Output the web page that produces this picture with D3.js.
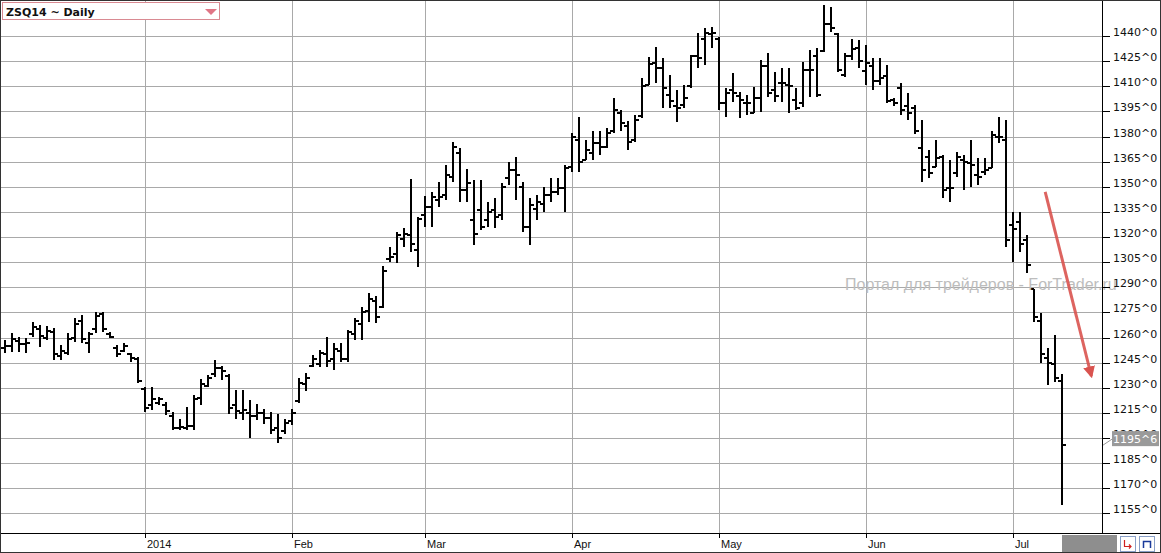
<!DOCTYPE html>
<html>
<head>
<meta charset="utf-8">
<script src="https://cdn.jsdelivr.net/npm/d3@7"></script>
<style>
  body { margin: 0; background: #fff; }
  svg { display: block; }
</style>
</head>
<body>
<svg id="chart" width="1161" height="553"></svg>
<script>
// trading days shown, month by month
const months = ["2013-12", "2014-01", "2014-02", "2014-03", "2014-04", "2014-05", "2014-06", "2014-07"];
const monthLabels = ["", "2014", "Feb", "Mar", "Apr", "May", "Jun", "Jul"];
const monthDays = [
    [3,4,5,6,9,10,11,12,13,16,17,18,19,20,23,24,26,27,30,31],
    [2,3,6,7,8,9,10,13,14,15,16,17,21,22,23,24,27,28,29,30,31],
    [3,4,5,6,7,10,11,12,13,14,18,19,20,21,24,25,26,27,28],
    [3,4,5,6,7,10,11,12,13,14,17,18,19,20,21,24,25,26,27,28,31],
    [1,2,3,4,7,8,9,10,11,14,15,16,17,21,22,23,24,25,28,29,30],
    [1,2,5,6,7,8,9,12,13,14,15,16,19,20,21,22,23,27,28,29,30],
    [2,3,4,5,6,9,10,11,12,13,16,17,18,19,20,23,24,25,26,27,30],
    [1,2,3,7,8,9,10,11]
];

const open = [
    1254,1255,1258,1256,1262,1265,1260,1263,1249,1251,1260,1270,1257,1265,1274,1262,1254,1252,1250,1247,
    1229,1220,1221,1220,1213,1206,1206,1207,1224,1231,1238,1242,1237,1220,1215,1215,1213,1215,1212,1206,1204,
    1210,1222,1232,1243,1244,1250,1247,1252,1247,1262,1268,1276,1282,1278,1307,1310,1319,1321,1312,
    1333,1338,1342,1345,1356,1370,1348,1330,1336,1330,1336,1333,1355,1360,1350,1326,1337,1340,1345,1347,1349,
    1362,1378,1366,1370,1376,1374,1383,1394,1386,1378,1392,1411,1424,1421,1405,1398,1399,1410,1428,1438,1441,
    1438,1400,1408,1404,1400,1394,1403,1422,1408,1412,1411,1402,1400,1420,1428,1431,1447,1441,1417,1428,1433,
    1419,1422,1413,1416,1402,1409,1398,1397,1373,1368,1362,1368,1349,1358,1366,1364,1357,1359,1361,1380,1378,
    1327,1329,1318,1289,1270,1248,1244,1234
];
const high = [
    1258.5,1262.5,1260.5,1259.5,1269.5,1267.5,1267,1265.5,1255.5,1262.5,1271.5,1273.5,1263.5,1275.25,1275,1263.5,1255.5,1256.5,1250.75,1248.5,
    1230.5,1230.5,1224.75,1221.75,1215.5,1211.5,1218.75,1225.5,1235.5,1237.5,1246.5,1242.75,1238.5,1228.5,1228.5,1222.5,1220.5,1217.5,1215.5,1214.5,1211.5,
    1217.5,1236,1239,1249.5,1252.5,1260.5,1256.5,1257,1264.5,1271.5,1278.5,1286.5,1284.5,1302.5,1314.25,1323.25,1325.25,1354.5,1332,
    1344.5,1347,1353,1363,1377,1373,1360.5,1354,1354,1341,1343,1352,1365,1368,1353,1343,1345,1350,1355,1355,1363,
    1382,1391.75,1378,1383,1383,1385,1403,1396,1389,1393,1414.75,1427.5,1433.5,1426.75,1416.75,1407.75,1410.75,1428.75,1441.5,1444.5,1445.5,
    1439.5,1408.75,1417.75,1406.75,1404.75,1409.75,1425.75,1429.75,1418.75,1420.75,1420.75,1408.75,1424.75,1431.5,1432.75,1458.5,1457.5,1441.5,1429.75,1438.5,1437.5,
    1434.5,1426.75,1426.75,1422.75,1403,1411.75,1405.75,1398.75,1389.75,1372,1378,1369,1366,1371,1369,1378,1367,1367,1383,1391.75,1390,
    1335,1335,1321.25,1289.25,1274.5,1253.5,1261.5,1238.5
];
const low = [
    1250.5,1251.5,1251.5,1251,1260.5,1254.5,1258.5,1246.5,1246.5,1249.5,1257.5,1256.5,1250.5,1262.5,1263.5,1259.5,1248.5,1251.5,1245.5,1233,
    1215.5,1216.5,1219.75,1213.5,1204.5,1204.5,1204.5,1204.5,1219.75,1230.5,1236.5,1234.5,1214.5,1211.5,1210.5,1199.75,1210.5,1208.5,1202.5,1196.75,1202.5,
    1207.5,1221,1228,1242.5,1242.5,1242.5,1240.5,1245.5,1245.5,1258.5,1258.5,1269.5,1268.5,1277.5,1305.25,1304.25,1314.25,1311.25,1302.25,
    1326,1326,1338,1342,1353,1341,1341,1315.25,1324,1326.25,1325.25,1330.25,1351,1342,1323.25,1315.25,1330.25,1335,1341,1345,1335,
    1359,1359,1366,1366,1369,1373,1382,1383,1372,1376.5,1391,1410.75,1411.75,1396.75,1396.75,1388.75,1396.75,1408.75,1420.75,1422.75,1432.75,
    1395.75,1391.75,1400.75,1390.75,1392.75,1393.75,1394.75,1403.75,1400.75,1400.75,1393.75,1395.75,1397.75,1403.75,1403.75,1430.5,1442.5,1418.75,1415.75,1425.75,1420.75,
    1410.75,1407.75,1410.75,1399.75,1398,1392.75,1389.75,1381.75,1353,1355,1362,1343,1341,1356,1348,1350,1351,1357,1361,1376,1314.25,
    1305.25,1311.25,1298.25,1269.5,1244.75,1231.5,1233.5,1160
];
const close = [
    1255,1259,1256,1257,1266,1261,1264,1250,1252,1259,1268,1259,1262,1273,1265,1260.5,1250,1255,1248,1234,
    1218,1223,1223,1216,1206,1206.5,1207,1223,1232,1236,1242,1240,1218,1216,1217,1213,1215,1212,1205,1200,1209,
    1215,1233,1236,1247,1251,1246,1253,1247,1263,1270,1275,1283,1272,1300,1308,1321,1322,1316,1331,
    1338,1344,1344,1357,1374,1348,1352,1322,1326,1335,1332,1350,1360,1357,1326,1339,1341,1345,1347,1349,1361,
    1380,1365,1372,1376,1374,1382,1396,1388,1377,1390,1410,1423,1421,1409,1401,1397,1403,1428,1427,1442,1442,
    1400,1406,1406,1402,1400,1403,1422,1406,1404,1412,1410,1397,1420,1420,1405,1447,1445,1420,1428,1432,1425,
    1424,1413,1415,1401,1400,1396,1394,1383,1360,1358,1367,1348,1349,1368,1365,1363,1356,1360,1381,1380,1318,
    1325,1316,1303,1272,1250,1245,1236,1195.75
];

const priceTicks = [1155,1170,1185,1200,1215,1230,1245,1260,1275,1290,1305,1320,1335,1350,1365,1380,1395,1410,1425,1440];
const lastPrice = 1195.75;
const lastLabel = "1195^6";
const title = "ZSQ14 ~ Daily";
const watermark = "Портал для трейдеров - ForTrader.ru";
// hand drawn arrow: [bar index, price]
const arrowFrom = [148.6, 1347];
const arrowTo = [155.2, 1237];

const dates = [];
months.forEach((m, k) => monthDays[k].forEach(d => dates.push(m + "-" + String(d).padStart(2, "0"))));
const bars = dates.map((d, i) => ({ date: d, i: i, o: open[i], h: high[i], l: low[i], c: close[i] }));

const svg = d3.select("#chart");
const width = 1161, height = 553;
const plotRight = 1102, plotBottom = 533;

const xScale = d3.scaleLinear().domain([0, bars.length - 1]).range([5, 1062]);
const yScale = d3.scaleLinear().domain([1440, 1155]).range([36, 513.4]);

svg.append("defs").append("clipPath").attr("id", "plotclip")
    .append("rect").attr("x", 0).attr("y", 0).attr("width", plotRight).attr("height", plotBottom);
const arrowMarker = svg.select("defs").append("marker")
    .attr("id", "arrowhead").attr("viewBox", "0 0 10 10")
    .attr("refX", 8).attr("refY", 5)
    .attr("markerWidth", 4).attr("markerHeight", 4)
    .attr("orient", "auto");
arrowMarker.append("path").attr("d", "M0,0 L10,5 L0,10 z").attr("fill", "#d9534f");

svg.append("rect").attr("width", width).attr("height", height).attr("fill", "#fff");

const g = svg.append("g").attr("clip-path", "url(#plotclip)").attr("shape-rendering", "crispEdges");

// grid
g.selectAll(".hgrid").data(priceTicks).enter().append("line")
    .attr("class", "hgrid")
    .attr("x1", 0).attr("x2", plotRight)
    .attr("y1", d => Math.round(yScale(d)) + 0.5).attr("y2", d => Math.round(yScale(d)) + 0.5)
    .attr("stroke", "#a9a9a9").attr("stroke-width", 1);

const monthStarts = [];
let idx = 0;
monthDays.forEach((days, k) => { monthStarts.push({ k: k, i: idx, label: monthLabels[k] }); idx += days.length; });
const shownMonths = monthStarts.filter(m => m.k > 0);

g.selectAll(".vgrid").data(shownMonths).enter().append("line")
    .attr("class", "vgrid")
    .attr("x1", d => Math.round(xScale(d.i)) + 0.5).attr("x2", d => Math.round(xScale(d.i)) + 0.5)
    .attr("y1", 0).attr("y2", plotBottom)
    .attr("stroke", "#a9a9a9").attr("stroke-width", 1);

// OHLC bars
const barG = g.selectAll(".bar").data(bars).enter().append("g").attr("class", "bar");
barG.append("line")
    .attr("x1", d => Math.round(xScale(d.i))).attr("x2", d => Math.round(xScale(d.i)))
    .attr("y1", d => Math.round(yScale(d.h))).attr("y2", d => Math.round(yScale(d.l)))
    .attr("stroke", "#000").attr("stroke-width", 2);
barG.append("line")
    .attr("x1", d => Math.round(xScale(d.i)) - 4).attr("x2", d => Math.round(xScale(d.i)))
    .attr("y1", d => Math.round(yScale(d.o))).attr("y2", d => Math.round(yScale(d.o)))
    .attr("stroke", "#000").attr("stroke-width", 2);
barG.append("line")
    .attr("x1", d => Math.round(xScale(d.i))).attr("x2", d => Math.round(xScale(d.i)) + 4)
    .attr("y1", d => Math.round(yScale(d.c))).attr("y2", d => Math.round(yScale(d.c)))
    .attr("stroke", "#000").attr("stroke-width", 2);

// watermark
svg.append("text")
    .attr("x", 845).attr("y", yScale(1289) + 1)
    .attr("font-family", "Liberation Sans, Arial, sans-serif").attr("font-size", 16)
    .attr("fill", "#bdbdbd")
    .text(watermark);

// arrow annotation
svg.append("line")
    .attr("x1", xScale(arrowFrom[0])).attr("y1", yScale(arrowFrom[1]))
    .attr("x2", xScale(arrowTo[0])).attr("y2", yScale(arrowTo[1]))
    .attr("stroke", "#d9534f").attr("stroke-width", 3).attr("stroke-opacity", 0.9)
    .attr("marker-end", "url(#arrowhead)");

// right axis
const axisG = svg.append("g").attr("shape-rendering", "crispEdges");
axisG.append("line").attr("x1", plotRight + 0.5).attr("x2", plotRight + 0.5).attr("y1", 0).attr("y2", plotBottom)
    .attr("stroke", "#000");
axisG.selectAll(".ytick").data(priceTicks).enter().append("line")
    .attr("x1", plotRight + 1).attr("x2", plotRight + 8)
    .attr("y1", d => Math.round(yScale(d)) + 0.5).attr("y2", d => Math.round(yScale(d)) + 0.5)
    .attr("stroke", "#000");
svg.selectAll(".ylabel").data(priceTicks).enter().append("text")
    .attr("x", plotRight + 11).attr("y", d => Math.round(yScale(d)) + 0)
    .attr("font-family", "DejaVu Sans, sans-serif").attr("font-size", 11)
    .attr("fill", "#111")
    .text(d => d + "^0");

// last price marker
const lastY = yScale(lastPrice);
svg.append("line")
    .attr("x1", plotRight + 1).attr("y1", lastY)
    .attr("x2", plotRight + 10).attr("y2", lastY - 6)
    .attr("stroke", "#999").attr("stroke-width", 1);
svg.append("rect")
    .attr("x", plotRight + 10).attr("y", lastY - 14)
    .attr("width", 47).attr("height", 15)
    .attr("fill", "#9a9a9a");
svg.append("text")
    .attr("x", plotRight + 11).attr("y", lastY - 2)
    .attr("font-family", "DejaVu Sans, sans-serif").attr("font-size", 11)
    .attr("fill", "#fff")
    .text(lastLabel);

// bottom axis
axisG.append("line").attr("x1", 0).attr("x2", width).attr("y1", plotBottom + 0.5).attr("y2", plotBottom + 0.5)
    .attr("stroke", "#000");
axisG.selectAll(".xtick").data(shownMonths).enter().append("line")
    .attr("x1", d => Math.round(xScale(d.i)) + 0.5).attr("x2", d => Math.round(xScale(d.i)) + 0.5)
    .attr("y1", plotBottom).attr("y2", plotBottom + 5)
    .attr("stroke", "#000");
svg.selectAll(".xlabel").data(shownMonths).enter().append("text")
    .attr("x", d => Math.round(xScale(d.i)) + 2).attr("y", plotBottom + 15)
    .attr("font-family", "Liberation Sans, Arial, sans-serif").attr("font-size", 11)
    .attr("fill", "#111")
    .text(d => d.label);

// scroll box and buttons bottom right
axisG.append("rect").attr("x", 1062).attr("y", plotBottom + 2).attr("width", 55).attr("height", 17).attr("fill", "#8e8e8e");
const btns = [1120, 1139];
axisG.selectAll(".btn").data(btns).enter().append("rect")
    .attr("x", d => d + 0.5).attr("y", plotBottom + 3.5).attr("width", 15).attr("height", 15)
    .attr("fill", "#fff").attr("stroke", "#8aa0c8");
svg.append("path").attr("d", "M1124.5,540 L1124.5,546.5 L1131,546.5 M1129,544.5 L1131,546.5 L1129,548.5")
    .attr("fill", "none").attr("stroke", "#d02020").attr("stroke-width", 1.2);
svg.append("path").attr("d", "M1143.5,548 L1143.5,541.5 L1150.5,541.5 L1150.5,548")
    .attr("fill", "none").attr("stroke", "#1a3a9a").attr("stroke-width", 1.5);

// outer frame
axisG.append("rect").attr("x", 0.5).attr("y", 0.5).attr("width", width - 1).attr("height", height - 1)
    .attr("fill", "none").attr("stroke", "#333");

// symbol selector
const sel = svg.append("g");
sel.append("rect").attr("x", 2.5).attr("y", 2.5).attr("width", 217).attr("height", 17)
    .attr("fill", "#fff").attr("stroke", "#d98a92").attr("shape-rendering", "crispEdges");
sel.append("text").attr("x", 6).attr("y", 15.5)
    .attr("font-family", "DejaVu Sans, sans-serif").attr("font-size", 11).attr("font-weight", "bold")
    .attr("fill", "#111")
    .text(title);
sel.append("path").attr("d", "M205,9 L217,9 L211,15 Z").attr("fill", "#e07585");
</script>
</body>
</html>
